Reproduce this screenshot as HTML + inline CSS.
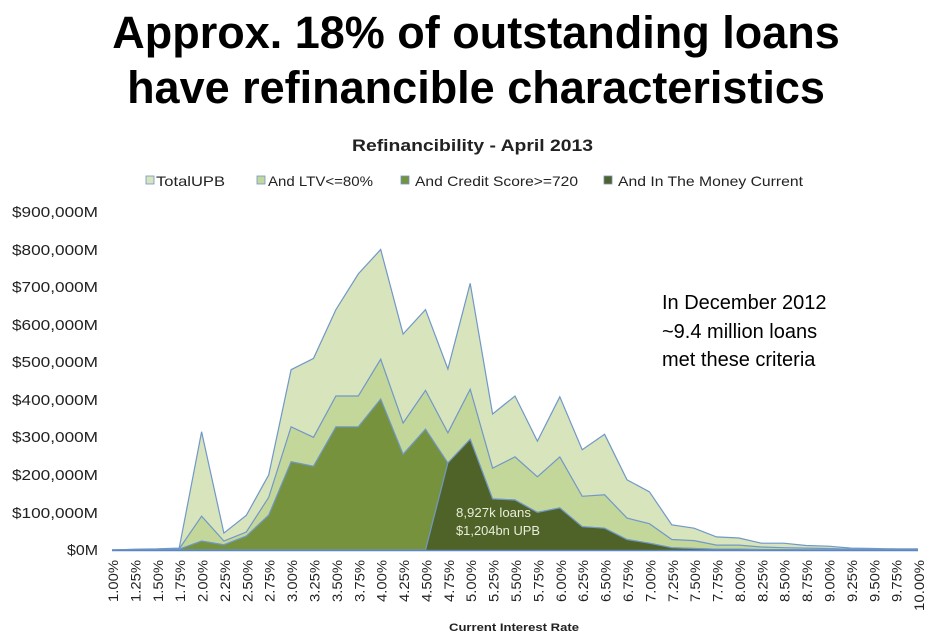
<!DOCTYPE html>
<html><head><meta charset="utf-8"><style>
body{margin:0;background:#fff;width:938px;height:639px;overflow:hidden}
svg{display:block}
</style></head><body>
<svg id="s" width="938" height="639" xmlns="http://www.w3.org/2000/svg" font-family="Liberation Sans, sans-serif">
<text x="476" y="48" text-anchor="middle" font-size="45" font-weight="bold">Approx. 18% of outstanding loans</text>
<text x="476" y="103" text-anchor="middle" font-size="45" font-weight="bold">have refinancible characteristics</text>
<text x="352" y="151" font-size="17" font-weight="bold" fill="#222" textLength="241" lengthAdjust="spacingAndGlyphs">Refinancibility - April 2013</text>
<g font-size="14" fill="#222">
<rect x="146" y="176" width="8" height="8" fill="#d8e4bc" stroke="#6f95c8" stroke-width="0.8"/><text x="156" y="186" textLength="69" lengthAdjust="spacingAndGlyphs">TotalUPB</text>
<rect x="257" y="176" width="8" height="8" fill="#c4d79b" stroke="#6f95c8" stroke-width="0.8"/><text x="268" y="186" textLength="105" lengthAdjust="spacingAndGlyphs">And LTV&lt;=80%</text>
<rect x="401" y="176" width="8" height="8" fill="#76923c" stroke="#6f95c8" stroke-width="0.8"/><text x="415" y="186" textLength="163" lengthAdjust="spacingAndGlyphs">And Credit Score&gt;=720</text>
<rect x="604" y="176" width="8" height="8" fill="#4f6228" stroke="#6f95c8" stroke-width="0.8"/><text x="618" y="186" textLength="185" lengthAdjust="spacingAndGlyphs">And In The Money Current</text>
</g>
<g font-size="15" fill="#222" text-anchor="end">
<text x="98" y="217" textLength="86" lengthAdjust="spacingAndGlyphs">$900,000M</text>
<text x="98" y="255" textLength="86" lengthAdjust="spacingAndGlyphs">$800,000M</text>
<text x="98" y="292" textLength="86" lengthAdjust="spacingAndGlyphs">$700,000M</text>
<text x="98" y="330" textLength="86" lengthAdjust="spacingAndGlyphs">$600,000M</text>
<text x="98" y="367" textLength="86" lengthAdjust="spacingAndGlyphs">$500,000M</text>
<text x="98" y="405" textLength="86" lengthAdjust="spacingAndGlyphs">$400,000M</text>
<text x="98" y="442" textLength="86" lengthAdjust="spacingAndGlyphs">$300,000M</text>
<text x="98" y="480" textLength="86" lengthAdjust="spacingAndGlyphs">$200,000M</text>
<text x="98" y="518" textLength="86" lengthAdjust="spacingAndGlyphs">$100,000M</text>
<text x="98" y="555" textLength="31" lengthAdjust="spacingAndGlyphs">$0M</text>
</g>
<g id="areas"></g>
<text x="456" y="517" font-size="13" fill="#e8eed8" textLength="75" lengthAdjust="spacingAndGlyphs">8,927k loans</text>
<text x="456" y="535" font-size="13" fill="#e8eed8" textLength="84" lengthAdjust="spacingAndGlyphs">$1,204bn UPB</text>
<g font-size="20" fill="#000">
<text x="662" y="309">In December 2012</text>
<text x="662" y="338">~9.4 million loans</text>
<text x="662" y="366">met these criteria</text>
</g>
<g id="xl" font-size="14" fill="#222"></g>
<text x="449" y="631" font-size="11" font-weight="bold" fill="#222" textLength="130" lengthAdjust="spacingAndGlyphs">Current Interest Rate</text>
</svg>
<script>
var T=[0,2,3,5,315,45,92,200,480,510,640,735,800,575,640,482,710,362,410,290,408,267,308,187,155,67,58,35,32,18,18,12,10,5,4,3,3];
var L=[0,1,2,3,90,24,48,140,328,300,410,410,508,338,425,312,428,218,248,195,248,143,147,85,70,28,25,13,13,8,6,5,4,2,2,1,1];
var C=[0,0.5,1,2,24,14,37,93,235,223,328,328,402,255,322,232,295,136,133,100,112,62,58,28,18,6,4,2,2,1,1,0.5,0.5,0,0,0,0];
var D=C.map(function(v,i){return i<15?0:v;});
function X(i){return 112+i*22.39;}function Y(v){return 550-v*0.3756;}
function area(a,fill){var p="M"+X(0)+",550";a.forEach(function(v,i){p+=" L"+X(i).toFixed(1)+","+Y(v).toFixed(1);});p+=" L"+X(36)+",550Z";
var l="M"+X(0)+","+Y(a[0]);a.forEach(function(v,i){l+=" L"+X(i).toFixed(1)+","+Y(v).toFixed(1);});
return '<path d="'+p+'" fill="'+fill+'"/><path d="'+l+'" fill="none" stroke="#7098c8" stroke-width="1.2"/>';}
var g=document.getElementById('areas');
g.innerHTML=area(T,"#d8e4bc")+area(L,"#c4d79b")+area(C,"#76923c")+area(D,"#4f6228")+'<line x1="112" y1="550.5" x2="918" y2="550.5" stroke="#5b86c0" stroke-width="1.5"/>';
var labs=["1.00%","1.25%","1.50%","1.75%","2.00%","2.25%","2.50%","2.75%","3.00%","3.25%","3.50%","3.75%","4.00%","4.25%","4.50%","4.75%","5.00%","5.25%","5.50%","5.75%","6.00%","6.25%","6.50%","6.75%","7.00%","7.25%","7.50%","7.75%","8.00%","8.25%","8.50%","8.75%","9.00%","9.25%","9.50%","9.75%","10.00%"];
var h="";labs.forEach(function(t,i){var x=X(i)+6;var w=t.length>5?51:42;h+='<text transform="translate('+x.toFixed(1)+',560) rotate(-90)" text-anchor="end" textLength="'+w+'" lengthAdjust="spacingAndGlyphs">'+t+'</text>';});
document.getElementById('xl').innerHTML=h;
</script>
</body></html>
